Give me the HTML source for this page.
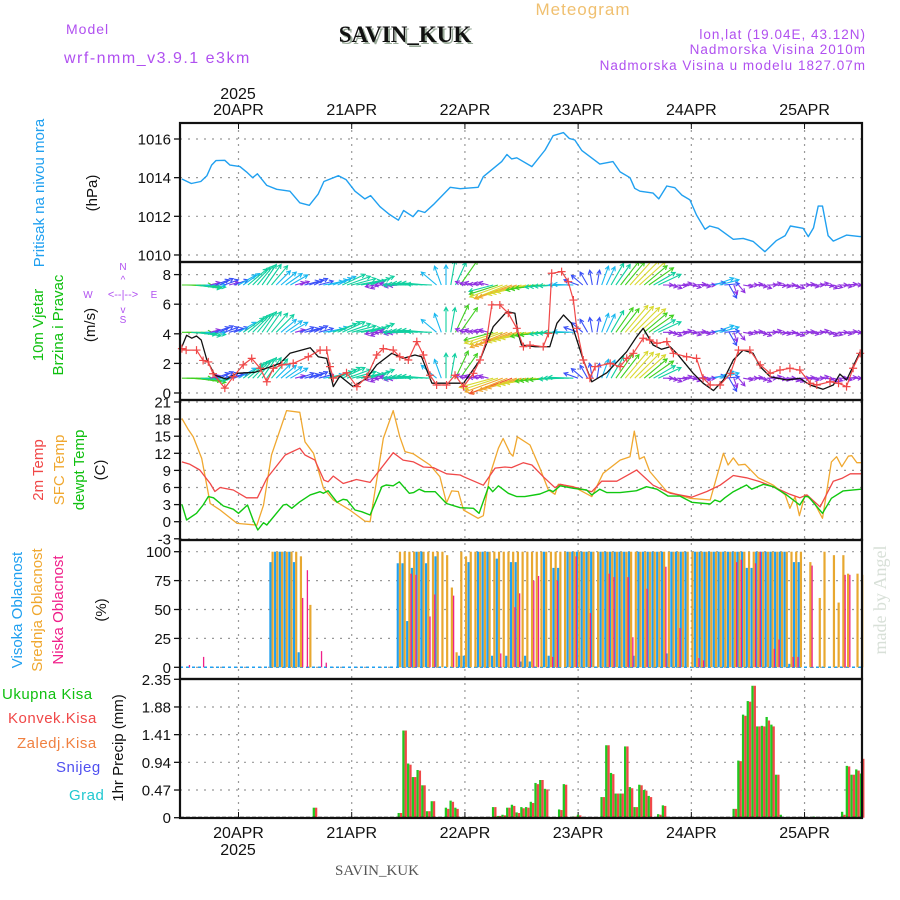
<!DOCTYPE html>
<html><head><meta charset="utf-8">
<style>
html,body{margin:0;padding:0;background:#fff;}
svg{display:block;font-family:"Liberation Sans",sans-serif;}
</style></head>
<body>
<svg id="chart" width="900" height="900" viewBox="0 0 900 900" xmlns="http://www.w3.org/2000/svg">
<defs><clipPath id="windclip"><rect x="180" y="262" width="682" height="138"/></clipPath></defs>
<rect x="0" y="0" width="900" height="900" fill="#fff"/>
<text x="583" y="15" font-size="17" fill="#f0c070" text-anchor="middle" letter-spacing="1">Meteogram</text>
<text x="407" y="44" font-family="Liberation Serif,serif" font-size="23" font-weight="bold" fill="#9a9" text-anchor="middle">SAVIN_KUK</text>
<text x="405" y="42" font-family="Liberation Serif,serif" font-size="23" font-weight="bold" fill="#111" text-anchor="middle">SAVIN_KUK</text>
<text x="66" y="34" font-size="14" fill="#b050f0" letter-spacing="1">Model</text>
<text x="64" y="63" font-size="16" fill="#b050f0" letter-spacing="1.5">wrf-nmm_v3.9.1 e3km</text>
<text x="866" y="39" font-size="13.5" fill="#b050f0" text-anchor="end" letter-spacing="1">lon,lat (19.04E, 43.12N)</text>
<text x="866" y="54" font-size="13.5" fill="#b050f0" text-anchor="end" letter-spacing="1">Nadmorska Visina 2010m</text>
<text x="866" y="70" font-size="13.5" fill="#b050f0" text-anchor="end" letter-spacing="1">Nadmorska Visina u modelu 1827.07m</text>
<text x="238" y="99" font-size="16" fill="#111" text-anchor="middle">2025</text>
<text x="377" y="875" font-family="Liberation Serif,serif" font-size="15" fill="#555" text-anchor="middle">SAVIN_KUK</text>
<text x="238" y="855" font-size="16" fill="#111" text-anchor="middle">2025</text>
<text transform="translate(886,600) rotate(-90)" font-family="Liberation Serif,serif" font-size="18" fill="#d8e0d8" text-anchor="middle">made by Angel</text>

<text transform="translate(44,193) rotate(-90)" font-size="15" fill="#20a0f0" text-anchor="middle">Pritisak na nivou mora</text>
<text transform="translate(97,193) rotate(-90)" font-size="15" fill="#111" text-anchor="middle">(hPa)</text>
<text transform="translate(43,325) rotate(-90)" font-size="15" fill="#10c010" text-anchor="middle">10m Vjetar</text>
<text transform="translate(63,325) rotate(-90)" font-size="15" fill="#10c010" text-anchor="middle">Brzina i Pravac</text>
<text transform="translate(95,325) rotate(-90)" font-size="15" fill="#111" text-anchor="middle">(m/s)</text>
<g fill="#b050f0" font-size="10" text-anchor="middle">
<text x="88" y="298">W</text><text x="154" y="298">E</text>
<text x="123" y="270">N</text><text x="123" y="323">S</text>
<text x="123" y="298" font-size="11">&lt;--|--&gt;</text>
<text x="123" y="283" font-size="10">^</text><text x="123" y="313" font-size="10">v</text>
</g>
<text transform="translate(43,470) rotate(-90)" font-size="15" fill="#f04848" text-anchor="middle">2m Temp</text>
<text transform="translate(64,470) rotate(-90)" font-size="15" fill="#f0a830" text-anchor="middle">SFC Temp</text>
<text transform="translate(84,470) rotate(-90)" font-size="15" fill="#10c010" text-anchor="middle">dewpt Temp</text>
<text transform="translate(105,470) rotate(-90)" font-size="15" fill="#111" text-anchor="middle">(C)</text>
<text transform="translate(22,610) rotate(-90)" font-size="15" fill="#20a0f0" text-anchor="middle">Visoka Oblacnost</text>
<text transform="translate(42,610) rotate(-90)" font-size="15" fill="#f0a830" text-anchor="middle">Srednja Oblacnost</text>
<text transform="translate(63,610) rotate(-90)" font-size="15" fill="#f0208a" text-anchor="middle">Niska Oblacnost</text>
<text transform="translate(106,610) rotate(-90)" font-size="15" fill="#111" text-anchor="middle">(%)</text>
<text x="2" y="699" font-size="15" fill="#10c010" letter-spacing="0.5">Ukupna Kisa</text>
<text x="8" y="723" font-size="15" fill="#f04848" letter-spacing="0.5">Konvek.Kisa</text>
<text x="17" y="748" font-size="15" fill="#f08040" letter-spacing="0.5">Zaledj.Kisa</text>
<text x="56" y="772" font-size="15" fill="#5050f0" letter-spacing="0.5">Snijeg</text>
<text x="69" y="800" font-size="15" fill="#20c8d0" letter-spacing="0.5">Grad</text>
<text transform="translate(123,748) rotate(-90)" font-size="15" fill="#111" text-anchor="middle">1hr Precip (mm)</text>
<g id="plot"></g>
</svg>
<script>
// ---------- data ----------
const dayLabels = ['20APR','21APR','22APR','23APR','24APR','25APR'];
const pressureTicks = [1016,1014,1012,1010];
const windTicks = [0,2,4,6,8];
const tempTicks = [21,18,15,12,9,6,3,0,-3];
const cloudTicks = [100,75,50,25,0];
const precipTicks = [2.35,1.88,1.41,0.94,0.47,0];

const pressureHours = [-12,-10,-8,-6.7,-5.7,-4.8,-2.9,-1.8,0.3,1.7,3,4,6,8.1,10.9,13,15,16.9,18.1,21.2,22.8,24.7,26.8,28,30,32,33.9,35,37,38.1,39.5,41.3,44.9,47,50.8,51.9,55.8,56.9,57.9,59,62.2,65,66.7,68.9,70.1,71.3,72.8,76.6,79.4,80.9,83,84,85.1,87.9,89.1,90.8,92.5,94,95.7,97.1,98.9,99.9,101.7,104.9,107,109.1,111.6,114,115.9,117,119.7,120.8,121.9,122.9,123.8,125,126.1,128.9,131.7,132.3];
const pressureValues = [1013.93,1013.7,1013.8,1014.1,1014.65,1014.88,1014.9,1014.65,1014.57,1014.3,1014.0,1014.2,1013.6,1013.4,1013.3,1012.7,1012.57,1013.15,1013.8,1014.1,1013.9,1013.3,1012.9,1013.07,1012.5,1012.1,1011.8,1012.3,1011.98,1012.3,1012.2,1012.6,1013.5,1013.43,1013.5,1014.05,1014.83,1015.2,1014.97,1015.03,1014.57,1015.43,1016.17,1016.33,1016.03,1015.95,1015.4,1014.7,1014.83,1014.3,1014.0,1013.45,1013.3,1013.2,1012.9,1013.57,1013.48,1013.1,1012.85,1012.07,1011.33,1011.5,1011.38,1010.81,1010.86,1010.7,1010.17,1010.74,1011.0,1011.5,1011.38,1010.95,1011.4,1012.53,1012.53,1011.0,1010.72,1011.03,1010.95,1010.95];

const speedHours = [-12,-11,-9.9,-8.9,-7.9,-6.7,-5,-2.5,-0.4,3.5,8.8,10.9,15.2,16.9,18.7,20.1,21.5,24.3,27.2,29.3,32.5,34.9,37.4,38.8,41,44.1,47.7,51.2,54,56.9,58.6,59.3,60,62.9,66,67.5,68.9,70.6,73.1,74.9,78.1,82.3,84.4,85.8,87.9,89.7,91.5,92.9,96.4,98.5,100.7,102.8,104.9,107,109.1,110.6,112.7,116.2,119,121.2,123.9,126.1,127.5,128.9,131.8];
const speedValues = [3.13,3.9,3.7,3.85,3.58,2.23,1.2,0.93,1.33,1.4,2.0,2.68,3.06,2.45,2.34,0.43,1.15,0.43,1.0,1.9,2.68,2.34,2.57,2.45,0.66,0.66,0.66,2.23,4.48,5.5,5.39,4.03,3.24,3.13,3.13,4.71,5.27,4.71,2.23,0.76,1.37,2.79,3.8,4.37,3.24,2.95,3.13,2.68,1.33,0.66,0.16,0.88,2.23,2.9,2.68,1.78,1.1,0.88,0.99,0.54,0.25,0.54,1.28,0.88,2.79];
const gustHours = [-12,-11.1,-8.9,-7.5,-6.4,-5.4,-2.9,-1.1,1,2.8,4.6,6,7.4,9.2,11.6,14.8,17.3,18.7,19.4,20.1,22.9,25.1,27.2,29.3,30.7,32.8,34.2,36,37.8,39.2,40.6,42,44.1,45.9,47.7,49.8,51.2,52.6,53.7,55.4,57.2,59,60.4,61.8,64.6,65.7,66.4,68.5,69.9,71,71.7,73.1,74.5,75.6,78.8,80.9,82.3,83.7,85.8,87.2,88.7,90.8,92.2,95,97.1,98.5,100,102.1,104.3,106,108.4,110.6,112.7,114.8,116.9,119,121.2,122.6,125.4,127.2,128.9,130.3,131.8];
const gustValues = [3.0,2.9,2.9,2.2,2.1,1.3,0.33,1.1,1.9,2.34,1.67,0.76,1.67,1.9,2.0,2.45,2.9,2.9,1.78,1.0,1.37,0.43,1.1,2.57,3.0,2.9,2.45,2.23,3.47,2.57,1.2,0.54,0.54,1.2,0.43,1.33,2.23,3.58,5.95,5.95,5.39,4.37,3.13,3.24,3.13,4.03,8.09,8.2,7.52,6.28,4.37,2.23,1.0,1.78,2.0,1.78,2.34,2.68,3.7,3.58,3.36,3.47,2.68,2.45,2.34,1.0,0.54,0.54,1.33,2.9,2.9,1.9,1.33,1.55,1.67,1.55,0.66,0.54,0.76,0.66,0.43,1.67,2.68];

const windStartHour = -12;
const windDir = [].concat(
  [0,358,355,352,355,0],
  [15,20,25,20,15,20],
  [30,35,40,45,50,55,55,50,45,40,35,30],
  [15,20,15,20,25,15],
  [10,15,20,25,25,20,15,10,10,15,20],
  [190,200,180,170,190,185],
  [180,180,178,176,175,175,178],
  [140,110,90,80,65,55],
  [160,170,165,175,170,165],
  [195,198,200,202,200,198,196,194,192,190,188,186,185,184,183,182,180,178],
  [160,140,120,100,80,70],
  [65,60,55,52,50,48,45,42,40,35,30,25],
  [0,350,340,355,10,0,345,5,350,0,10,20,15,5,300,290,310,350,0,5,350,340,0,10,355,350,0,345,340,0,5,350,0,10,355,340,345,0,350,5,0,350,355]
);
const windSpeedTop = [].concat(
  [6,6,6,5,5,4],[2,3,3,3,2,3],[4,4,5,5,5,5,5,5,4,4,4,4],[2,2,3,3,3,3],[4,4,4,4,5,5,5,5,5,5,5],[2,2,2,2,2,2],[4,5,5,5,5,5,5],[4,4,4,5,5,6],[2,2,2,2,2,2],
  [5,6,7,7,8,8,7,7,7,6,6,6,5,5,5,5,4,4],[3,3,3,3,3,4],[4,5,5,6,6,7,7,7,6,6,5,5],
  [2,2,2,2,2,2,2,2,2,2,3,4,4,3,3,2,2,2,2,2,2,2,2,2,2,2,2,2,2,2,2,2,2,2,2,2,2,2,2,2,2,2,2]
);
const windSpeedMid = [].concat(
  [6,6,5,5,5,4],[2,3,3,3,3,3],[4,5,5,5,5,5,5,5,5,4,4,4],[2,3,3,3,3,3],[4,4,5,5,5,5,5,5,5,5,5],[2,2,2,2,2,2],[4,5,5,5,5,5,5],[4,4,5,5,6,6],[2,2,2,2,2,2],
  [6,7,7,8,8,8,7,7,7,7,6,6,6,5,5,5,5,4],[3,3,3,3,3,4],[4,5,6,6,7,7,7,7,6,6,5,5],
  [2,2,2,2,2,2,2,2,2,2,3,4,4,3,3,2,2,2,2,2,2,2,2,2,2,2,2,2,2,2,2,2,2,2,2,2,2,2,2,2,2,2,2]
);
const windSpeedLow = [].concat(
  [6,6,6,6,5,5],[2,3,3,3,3,3],[4,5,5,5,5,5,5,5,4,4,4,4],[2,3,3,3,3,3],[4,5,5,5,5,5,5,5,5,5,5],[2,2,2,2,2,2],[4,5,5,5,5,5,5],[4,4,5,5,6,6],[2,2,2,2,2,2],
  [7,7,8,8,9,8,8,8,7,7,7,6,6,6,6,5,5,5],[3,3,3,3,3,4],[4,5,6,6,7,7,7,7,6,6,5,5],
  [2,2,2,2,2,2,2,2,2,2,3,4,4,3,3,2,2,2,2,2,2,2,2,2,2,2,2,2,2,2,2,2,2,2,2,2,2,2,2,2,2,2,2]
);
const windLevels = [7.3,4.1,1.0];

const tempHours = [-12,-10.3,-8.2,-6,-5,-3.9,-1.1,1.7,4,6,9.9,13,14.1,16.2,18.1,19,20.1,22.2,25,27.9,32.8,34.9,37.1,39.2,41.3,44.1,47,47.7,51.9,54.4,56.5,57.9,60.4,62.2,64.6,67.1,68.2,71.7,74.9,77,80.2,83,84.4,87.9,91.5,96.1,99.3,102.1,104.9,107.7,110.6,113.4,116.9,119,120.5,123.3,126.1,127.9,129.7,132];
const temp2m = [10.5,10.07,9.07,6.7,5.3,6.0,5.56,4.2,4.2,7.6,11.7,12.9,11.7,10.8,7.3,7.0,8.0,6.7,7.4,6.9,12.1,10.8,10.5,9.6,9.5,8.4,8.2,7.9,6.4,9.4,9.6,9.5,10.35,9.95,7.9,5.96,6.56,5.96,5.26,7.1,7.1,8.4,9.07,6.4,5.0,4.3,5.3,6.4,8.1,7.7,7.0,6.1,4.8,4.2,4.7,2.6,7.1,7.6,8.4,8.4];
const sfcHours = [-12,-10.6,-9.6,-7.8,-6,-3.9,-0.3,3.9,5.3,7,10.2,13,14.1,15.9,18,20.1,23.6,26.8,27.9,30.7,32.8,34.2,35.3,37.1,40.6,42.7,44.1,45.2,46.6,47.7,50.8,51.9,53.3,55.1,56.1,57.6,58.2,59.1,61.8,63.9,65.7,67.1,67.8,71,74.9,77.3,80.9,83,83.9,85,86,87.2,90.8,95.7,100,102.8,103.8,104.9,106,107.4,110.2,113.4,115.9,116.9,118,118.9,120.1,121.9,123.8,125.7,126.8,127.9,129.3,130,131.1,132];
const sfcTemp = [18.1,16.1,14.9,11.1,3.2,2.05,-0.3,-0.6,2.9,11.7,19.5,19.2,14.0,12.0,5.9,3.8,2.05,0.1,0,14.6,19.5,14.9,12.3,11.9,9.95,7.9,3.3,5.4,5.3,2.05,0.6,1.05,8.2,12.9,14.6,12.0,11.5,14.9,13.45,9.4,5.56,4.8,6.56,6.14,4.4,8.5,10.8,11.4,15.9,11.0,11.4,8.8,5.3,4.1,3.8,12.0,9.95,11.2,9.95,10.07,7.7,6.4,4.7,2.35,4.4,1.05,4.7,3.6,0.6,10.5,11.4,9.65,11.5,11.6,10.35,10.35];
const dewHours = [-12,-11,-8.9,-7.5,-6.4,-5.3,-3.2,-1.1,0,1.9,3.1,4.1,5.3,6,9.5,10.2,11.3,13,15.2,17.3,18,19,20.9,22.2,23,24.7,26.1,27.9,30.4,31.3,32.8,34.1,36.2,37.1,38.3,39.5,41.7,44.1,47,49.8,51,53,53.9,55.1,57.2,59,60.7,63.9,66,66.7,68.2,71,73.8,74.9,76.6,78.1,80.9,84.4,86.5,88.7,91.1,93.6,96.1,100,101,102.1,103.1,104.9,107.7,108.8,111.3,113.4,116.2,119,120.1,120.8,123.8,125.7,128.2,132];
const dewTemp = [3.05,0.3,1.47,2.93,4.4,4.2,2.75,2.2,1.47,2.93,0.3,-1.46,-0.17,-0.58,2.93,3.05,2.35,3.5,4.7,5.26,4.98,5.44,3.4,3.93,3.8,2.05,1.75,1.17,6.14,6.44,6.3,7.0,4.98,5.1,5.7,5.26,5.26,3.2,2.45,2.35,1.47,6.14,5.26,6.3,4.98,4.4,4.4,4.86,5.56,5.26,6.3,5.86,5.56,4.7,5.7,5.1,5.1,5.44,6.14,5.7,4.5,4.5,3.4,3.1,3.8,3.5,4.2,5.26,6.44,5.7,6.56,6.14,4.7,2.93,4.4,4.4,1.47,4.1,5.4,5.7];

const cloudStartHour = -12;
const midCloud = [].concat(
  [0,0,0,0,0,0,0,0,0,0,0,0,0,0,0,0,0,0,0],
  [100,100,100,100,100,100,96,0,54],
  [0,0,0,0,0,0,0,0,0,0,0,0,0,0,0,0,0,0],
  [100,100,100,100,100,100,100,100,100,100,97,69,13],
  [100,96,100,100,100,100,100,100,100,100,100,100,100,100,100,100,100,100,100,100,100,100,100,100,100,100,100,100,100,100,100,100,100,100,100,100,100,100,100,100,100,100,100,100,100,100,100,100,100,100,100,100,100,100,100,100,100,100,100,100,100,100,100,100,100,100,100,100,100,100,100,100,100],
  [0,91,0,60,100,0,97,56,97,81,0,81,80]
);
const highCloud = [].concat(
  [0,0,0,0,0,0,0,0,0,0,0,0,0,0,0,0,0,0,0],
  [91,100,100,100,100,91,13,0,0],
  [0,0,0,0,0,0,0,0,0,0,0,0,0,0,0,0,0,0],
  [90,90,40,86,100,100,90,0,96,0,0,0,0],
  [10,10,91,0,100,100,100,10,94,0,10,91,91,5,10,5,0,0,100,10,86,86,0,100,100,100,100,100,100,0,100,100,100,100,100,100,100,10,100,100,100,100,100,100,12,100,100,100,100,0,100,100,100,100,100,100,100,100,100,100,100,86,86,100,100,100,100,100,100,100,3,91,91],
  [0,0,0,0,0,0,0,0,0,0,0,0,0]
);
const lowCloudHours = [-11,-8,13,14,17,18,36,37,40,41,45,55,58,59,62,63,66,67,71,74,78,79,82,83,86,90,93,97,98,105,106,109,110,113,114,117,118,121,128,129];
const lowCloudValues = [2,9,60,84,14,4,81,80,44,63,62,12,52,64,75,79,9,75,96,47,81,78,78,26,68,87,34,8,6,91,93,90,100,16,24,9,9,88,80,80];

const precipHours = [16,34,35,36,37,38,39,40,41,44,45,46,54,55,56,57,58,59,60,61,62,63,64,65,68,69,71,72,77,78,79,80,81,82,83,84,85,86,87,89,90,105,106,107,108,109,110,111,112,113,114,115,122,128,129,130,131,132];
const precipTotal = [0.17,0.08,1.48,0.92,0.69,0.81,0.55,0.11,0.28,0.17,0.29,0.17,0.18,0.03,0.05,0.17,0.22,0.09,0.18,0.18,0.27,0.59,0.64,0.49,0.14,0.57,0.02,0.05,0.35,1.23,0.76,0.41,0.41,1.21,0.52,0.18,0.56,0.47,0.37,0.06,0.21,0.15,0.97,1.75,1.98,2.24,1.55,1.56,1.71,1.58,0.73,0.05,0.02,0.1,0.88,0.73,0.82,0.75];
const precipConv = [0.17,0.08,1.48,0.9,0.69,0.8,0.55,0.11,0.28,0.15,0.27,0.15,0.18,0.03,0.04,0.17,0.2,0.08,0.16,0.17,0.25,0.57,0.64,0.48,0.13,0.56,0.02,0.04,0.35,1.23,0.74,0.41,0.41,1.21,0.5,0.18,0.55,0.46,0.35,0.05,0.2,0.15,0.96,1.73,1.97,2.24,1.55,1.55,1.65,1.55,0.73,0,0,0.05,0.87,0.73,0.8,1.0];

// ---------- axes ----------
const X0 = 180, X1 = 862;
const xOf = h => 238.5 + h * 4.717;
const pY = v => 139 + (1016 - v) * 19.33;
const wY = v => 393 - v * 14.8;
const tY = v => 521.7 - v * 5.7;
const cY = v => 667.3 - v * 1.156;
const rY = v => 817.7 - v * 58.9;
const panels = [[123,262],[262,400],[400,540],[540,679],[679,818]];

const NS = 'http://www.w3.org/2000/svg';
const plot = document.getElementById('plot');
function mk(tag, attrs, parent) {
  const e = document.createElementNS(NS, tag);
  for (const k in attrs) e.setAttribute(k, attrs[k]);
  (parent || plot).appendChild(e);
  return e;
}
function clipLine(hs, vs, fy, color, name, w) {
  let d = '';
  hs.forEach((h, i) => { d += (i ? 'L' : 'M') + xOf(h).toFixed(1) + ',' + fy(vs[i]).toFixed(1); });
  const p = mk('path', {d: d, fill: 'none', stroke: color, 'stroke-width': w || 1.3, 'stroke-linejoin': 'round'});
  
  
  return p;
}

dayLabels.forEach((lab, i) => {
  const x = xOf(i * 24);
  const g = mk('line', {x1: x, x2: x, y1: 123, y2: 818, stroke: '#999', 'stroke-width': 1.2, 'stroke-dasharray': '2,5'});
  
  
  const t1 = mk('text', {x: x, y: 115, 'font-size': 16, fill: '#111', 'text-anchor': 'middle'});
  
  
  t1.textContent = lab;
  const t2 = mk('text', {x: x, y: 838, 'font-size': 16, fill: '#111', 'text-anchor': 'middle'});
  
  
  t2.textContent = lab;
  [[123,129],[812,818]].forEach(r => {
    const tk = mk('line', {x1: x, x2: x, y1: r[0], y2: r[1], stroke: '#111', 'stroke-width': 1});
    
    
  });
});
function yAxis(ticks, fy, name) {
  ticks.forEach(v => {
    const y = fy(v);
    const g = mk('line', {x1: X0, x2: X1, y1: y, y2: y, stroke: '#999', 'stroke-width': 1.2, 'stroke-dasharray': '2,6'});
    
    
    const tk = mk('line', {x1: X0 - 6, x2: X0, y1: y, y2: y, stroke: '#111', 'stroke-width': 1.3});
    
    
    const t = mk('text', {x: X0 - 9, y: y + 5.5, 'font-size': 15, fill: '#111', 'text-anchor': 'end'});
    
    
    t.textContent = v;
  });
}
yAxis(pressureTicks, pY, 'pressure');
yAxis(windTicks, wY, 'wind');
yAxis(tempTicks, tY, 'temp');
yAxis(cloudTicks, cY, 'cloud');
yAxis(precipTicks, rY, 'precip');

clipLine(pressureHours, pressureValues, pY, '#20a0f0', 'pressure-line', 1.4);

// wind arrows
const windGroup = mk('g', {'clip-path': 'url(#windclip)'});


const windColors = ['#9030e0','#9030e0','#9030e0','#3a50f8','#18b8f0','#10d0a0','#40d020','#d8d830','#f0a830','#f05030'];
[windSpeedTop, windSpeedMid, windSpeedLow].forEach((spd, r) => {
  const y0 = wY(windLevels[r]);
  windDir.forEach((dir, i) => {
    const x0 = xOf(windStartHour + i);
    const L = spd[i] * 5;
    const a = dir * Math.PI / 180;
    const x1 = x0 + L * Math.cos(a), y1 = y0 - L * Math.sin(a);
    const col = windColors[Math.min(9, Math.round(spd[i]))];
    const h1 = a + Math.PI - 0.5, h2 = a + Math.PI + 0.5;
    const d = 'M' + x0.toFixed(1) + ',' + y0.toFixed(1) + 'L' + x1.toFixed(1) + ',' + y1.toFixed(1) +
      'M' + (x1 + 4.5 * Math.cos(h1)).toFixed(1) + ',' + (y1 - 4.5 * Math.sin(h1)).toFixed(1) + 'L' + x1.toFixed(1) + ',' + y1.toFixed(1) +
      'L' + (x1 + 4.5 * Math.cos(h2)).toFixed(1) + ',' + (y1 - 4.5 * Math.sin(h2)).toFixed(1);
    const ar = mk('path', {d: d, fill: 'none', stroke: col, 'stroke-width': 1.1}, windGroup);
    
    
  });
});
clipLine(speedHours, speedValues, wY, '#111', 'wind-speed-line', 1.3);
clipLine(gustHours, gustValues, wY, '#f04848', 'wind-gust-line', 1.2);
gustHours.forEach((h, i) => {
  const x = xOf(h), y = wY(gustValues[i]);
  const m = mk('path', {d: 'M' + (x - 4) + ',' + y + 'h8M' + x + ',' + (y - 4) + 'v8', stroke: '#f04848', 'stroke-width': 1.2});
  
  
});

clipLine(sfcHours, sfcTemp, tY, '#f0a830', 'sfc-temp-line', 1.3);
clipLine(tempHours, temp2m, tY, '#f04848', '2m-temp-line', 1.3);
clipLine(dewHours, dewTemp, tY, '#10c810', 'dewpoint-line', 1.4);

const cb = mk('line', {x1: X0, x2: X1, y1: cY(0), y2: cY(0), stroke: '#20a0f0', 'stroke-width': 1.5, 'stroke-dasharray': '3,3'});


highCloud.forEach((v, i) => {
  if (!v) return;
  const x = xOf(cloudStartHour + i);
  const b = mk('rect', {x: x - 2.2, y: cY(v), width: 2.2, height: cY(0) - cY(v), fill: '#20a0f0'});
  
  
});
midCloud.forEach((v, i) => {
  if (!v) return;
  const x = xOf(cloudStartHour + i);
  const b = mk('rect', {x: x, y: cY(v), width: 2.2, height: cY(0) - cY(v), fill: '#e8a830'});
  
  
});
lowCloudHours.forEach((h, i) => {
  const v = lowCloudValues[i];
  const x = xOf(h);
  const b = mk('rect', {x: x + 2.2, y: cY(v), width: 1.3, height: cY(0) - cY(v), fill: '#f0208a'});
  
  
});

precipHours.forEach((h, i) => {
  const x = xOf(h) + 1;
  const g = mk('rect', {x: x - 2.3, y: rY(precipTotal[i]), width: 2.3, height: rY(0) - rY(precipTotal[i]), fill: '#20c820'});
  
  
  if (precipConv[i] > 0) {
    const r = mk('rect', {x: x, y: rY(precipConv[i]), width: 2.3, height: rY(0) - rY(precipConv[i]), fill: '#f04848'});
    
    
  }
});
const pb = mk('line', {x1: X0, x2: X1, y1: rY(0), y2: rY(0), stroke: '#111', 'stroke-width': 2, 'stroke-dasharray': '4,2'});



panels.forEach(p => {
  const f = mk('rect', {x: X0, y: p[0], width: X1 - X0, height: p[1] - p[0], fill: 'none', stroke: '#111', 'stroke-width': 2.2});
  
  
});
</script>
</body></html>
